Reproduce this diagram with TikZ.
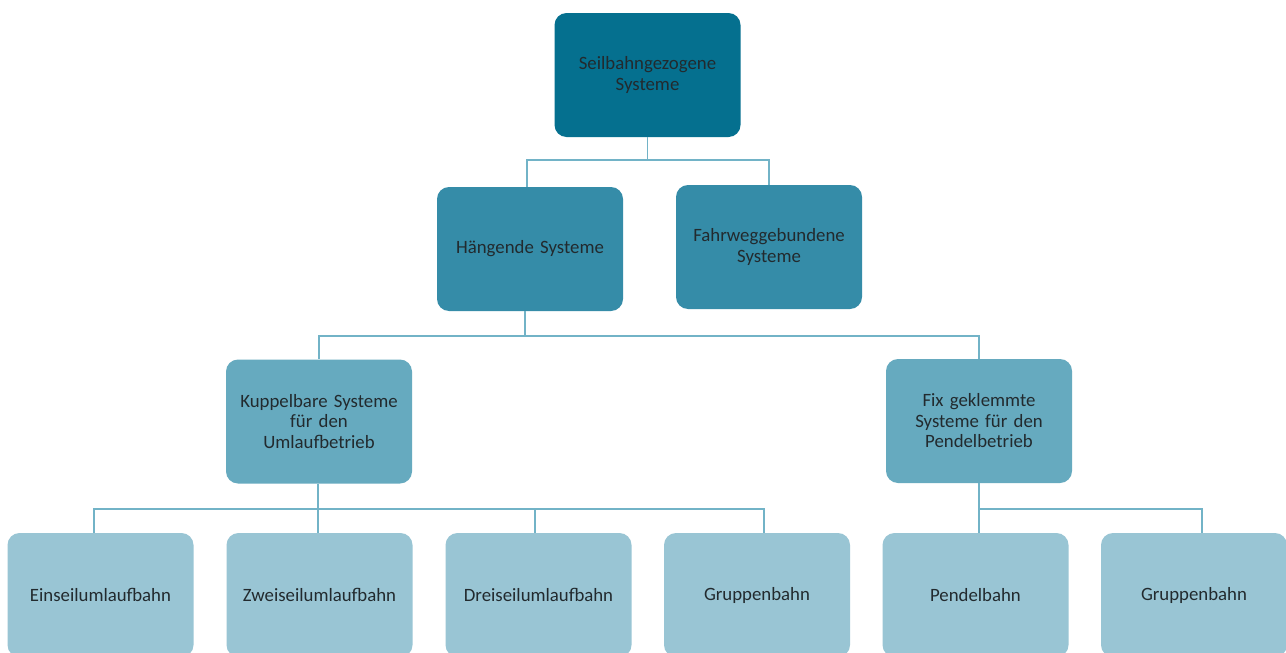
\documentclass[tikz,border=0pt]{standalone}
\usepackage{fontspec}
\setmainfont{Carlito}
\definecolor{cA}{HTML}{05708F}
\definecolor{cB}{HTML}{358CA8}
\definecolor{cC}{HTML}{66AABF}
\definecolor{cD}{HTML}{99C5D4}
\definecolor{ln}{HTML}{72B3C7}
\definecolor{tx}{HTML}{222A2E}
\tikzset{
  box/.style={rounded corners=12pt, minimum width=186pt, minimum height=124pt, align=center, text=tx, font=\fontsize{18.8}{20.5}\selectfont, inner sep=0pt, text width=180pt},
  lA/.style={box, fill=cA},
  lB/.style={box, fill=cB},
  lC/.style={box, fill=cC},
  lD/.style={box, fill=cD},
  con/.style={draw=ln, line width=1.5pt}
}
\begin{document}
\begin{tikzpicture}[x=1pt,y=-1pt]
\useasboundingbox[fill=white] (0,0) rectangle (1286,653);
\node[lA] (root) at (647.5,75) {Seilbahngezogene\\Systeme};
\node[lB] (haeng) at (530,249) {Hängende Systeme};
\node[lB] (fahr) at (769,247) {Fahrweggebundene\\Systeme};
\node[lC] (kupp) at (319,421.5) {Kuppelbare Systeme\\für den\\Umlaufbetrieb};
\node[lC] (fix) at (979,421) {Fix geklemmte\\Systeme für den\\Pendelbetrieb};
\node[lD] (ein) at (100.5,595) {Einseilumlaufbahn};
\node[lD] (zwei) at (319.5,595) {Zweiseilumlaufbahn};
\node[lD] (drei) at (538.5,595) {Dreiseilumlaufbahn};
\node[lD] (grp1) at (757,595) {Gruppenbahn};
\node[lD] (pend) at (975.5,595) {Pendelbahn};
\node[lD] (grp2) at (1194,595) {Gruppenbahn};
% connectors
\draw[con] (root.south) -- ++(0,23) -| (haeng.north -| 527,0);
\draw[con] (root.south) ++(0,23) -| (fahr.north);
\draw[con] (haeng.south -| 525,0) -- (525,336) -| (kupp.north);
\draw[con] (525,336) -| (fix.north);
\draw[con] (kupp.south -| 318,0) -- (318,509) -| (ein.north -| 94,0);
\draw[con] (318,509) -- (zwei.north -| 318,0);
\draw[con] (318,509) -| (drei.north -| 535,0);
\draw[con] (318,509) -| (grp1.north -| 764,0);
\draw[con] (fix.south) -- (979,509) -- (pend.north -| 979,0);
\draw[con] (979,509) -| (grp2.north -| 1202,0);
\end{tikzpicture}
\end{document}
